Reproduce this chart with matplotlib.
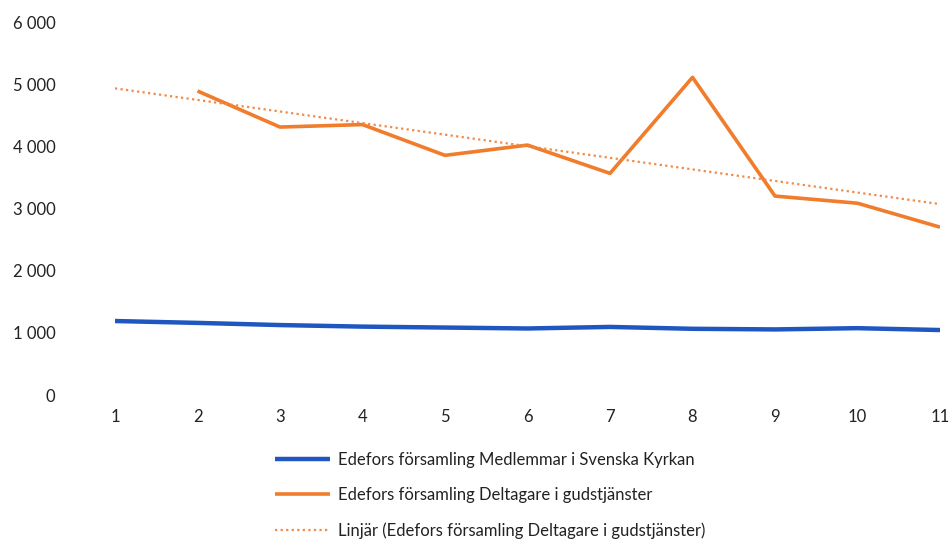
import numpy as np
import matplotlib
matplotlib.use("Agg")
import matplotlib.pyplot as plt
from matplotlib.ticker import FuncFormatter

plt.rcParams['font.family'] = ['Lato', 'DejaVu Sans']

# data
years = [1, 2, 3, 4, 5, 6, 7, 8, 9, 10, 11]
medlemmar = [1190, 1160, 1125, 1100, 1085, 1070, 1095, 1065, 1055, 1075, 1045]
deltagare_x = [2, 3, 4, 5, 6, 7, 8, 9, 10, 11]
deltagare = [4890, 4310, 4350, 3855, 4020, 3565, 5110, 3200, 3085, 2700]

lbl_blue = 'Edefors församling Medlemmar i Svenska Kyrkan'
lbl_orange = 'Edefors församling Deltagare i gudstjänster'
lbl_trend = 'Linjär (Edefors församling Deltagare i gudstjänster)'

fig = plt.figure(figsize=(9.53, 5.4), dpi=100)
ax = fig.add_axes([115/953, 1 - 395/540, (940 - 115)/953, (395 - 22)/540])

ax.plot(years, medlemmar, color='#1f56c0', lw=3.2, solid_capstyle='butt', label=lbl_blue)
ax.plot(deltagare_x, deltagare, color='#f07c2c', lw=2.6, solid_capstyle='butt', label=lbl_orange)

# linear trendline like Excel
k, m = np.polyfit(deltagare_x, deltagare, 1)
tx = np.array([years[0], years[-1]])
ax.plot(tx, k * tx + m, color='#f08a45', lw=1.6, ls=(0, (1, 1.5)), label=lbl_trend)

ax.set_xlim(1, 11)
ax.set_ylim(0, 6000)
ax.set_yticks(range(0, 6001, 1000))
ax.yaxis.set_major_formatter(FuncFormatter(lambda v, p: f'{int(v):,}'.replace(',', ' ')))
ax.set_xticks(years)
for s in ax.spines.values():
    s.set_visible(False)
ax.tick_params(axis='both', length=0, labelsize=12, colors='#222222')
ax.tick_params(axis='y', pad=43)
ax.tick_params(axis='x', pad=10)

fig.legend(loc='upper left', bbox_to_anchor=(260/953, 1 - 437/540), frameon=False,
           fontsize=12, handlelength=3.3, handletextpad=0.45, labelspacing=1.15,
           labelcolor='#222222')

fig.savefig('out.png', dpi=100, facecolor='white')
